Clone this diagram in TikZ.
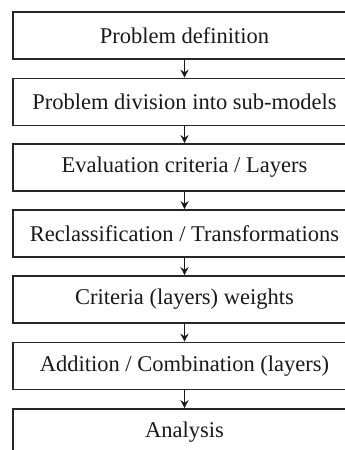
\documentclass[tikz,border=0pt]{standalone}
\usepackage{fontspec}
\setmainfont{Liberation Serif}
\usetikzlibrary{arrows.meta}
\begin{document}
\begin{tikzpicture}[x=1pt,y=-1pt,
  stepbox/.style={draw=black!85, line width=1.6pt, minimum width=343pt, minimum height=47pt,
    inner sep=0pt, font=\fontsize{22.5}{27}\selectfont, text=black!90},
  flow/.style={draw=black!90, line width=1.3pt, -{Stealth[length=8pt,width=8pt]}}]
\useasboundingbox (0,0) rectangle (345,450);
\node[stepbox] (b1) at (184.5,35.5) {Problem definition};
\node[stepbox] (b2) at (184.5,102) {Problem division into sub-models};
\node[stepbox] (b3) at (184.5,167.5) {Evaluation criteria / Layers};
\node[stepbox] (b4) at (184.5,233.5) {Reclassification / Transformations};
\node[stepbox] (b5) at (184.5,299.5) {Criteria (layers) weights};
\node[stepbox] (b6) at (184.5,366) {Addition / Combination (layers)};
\node[stepbox] (b7) at (184.5,432.5) {Analysis};
\foreach \a/\b in {b1/b2,b2/b3,b3/b4,b4/b5,b5/b6,b6/b7}
  \draw[flow] (\a.south) -- (\b.north);
\end{tikzpicture}
\end{document}
